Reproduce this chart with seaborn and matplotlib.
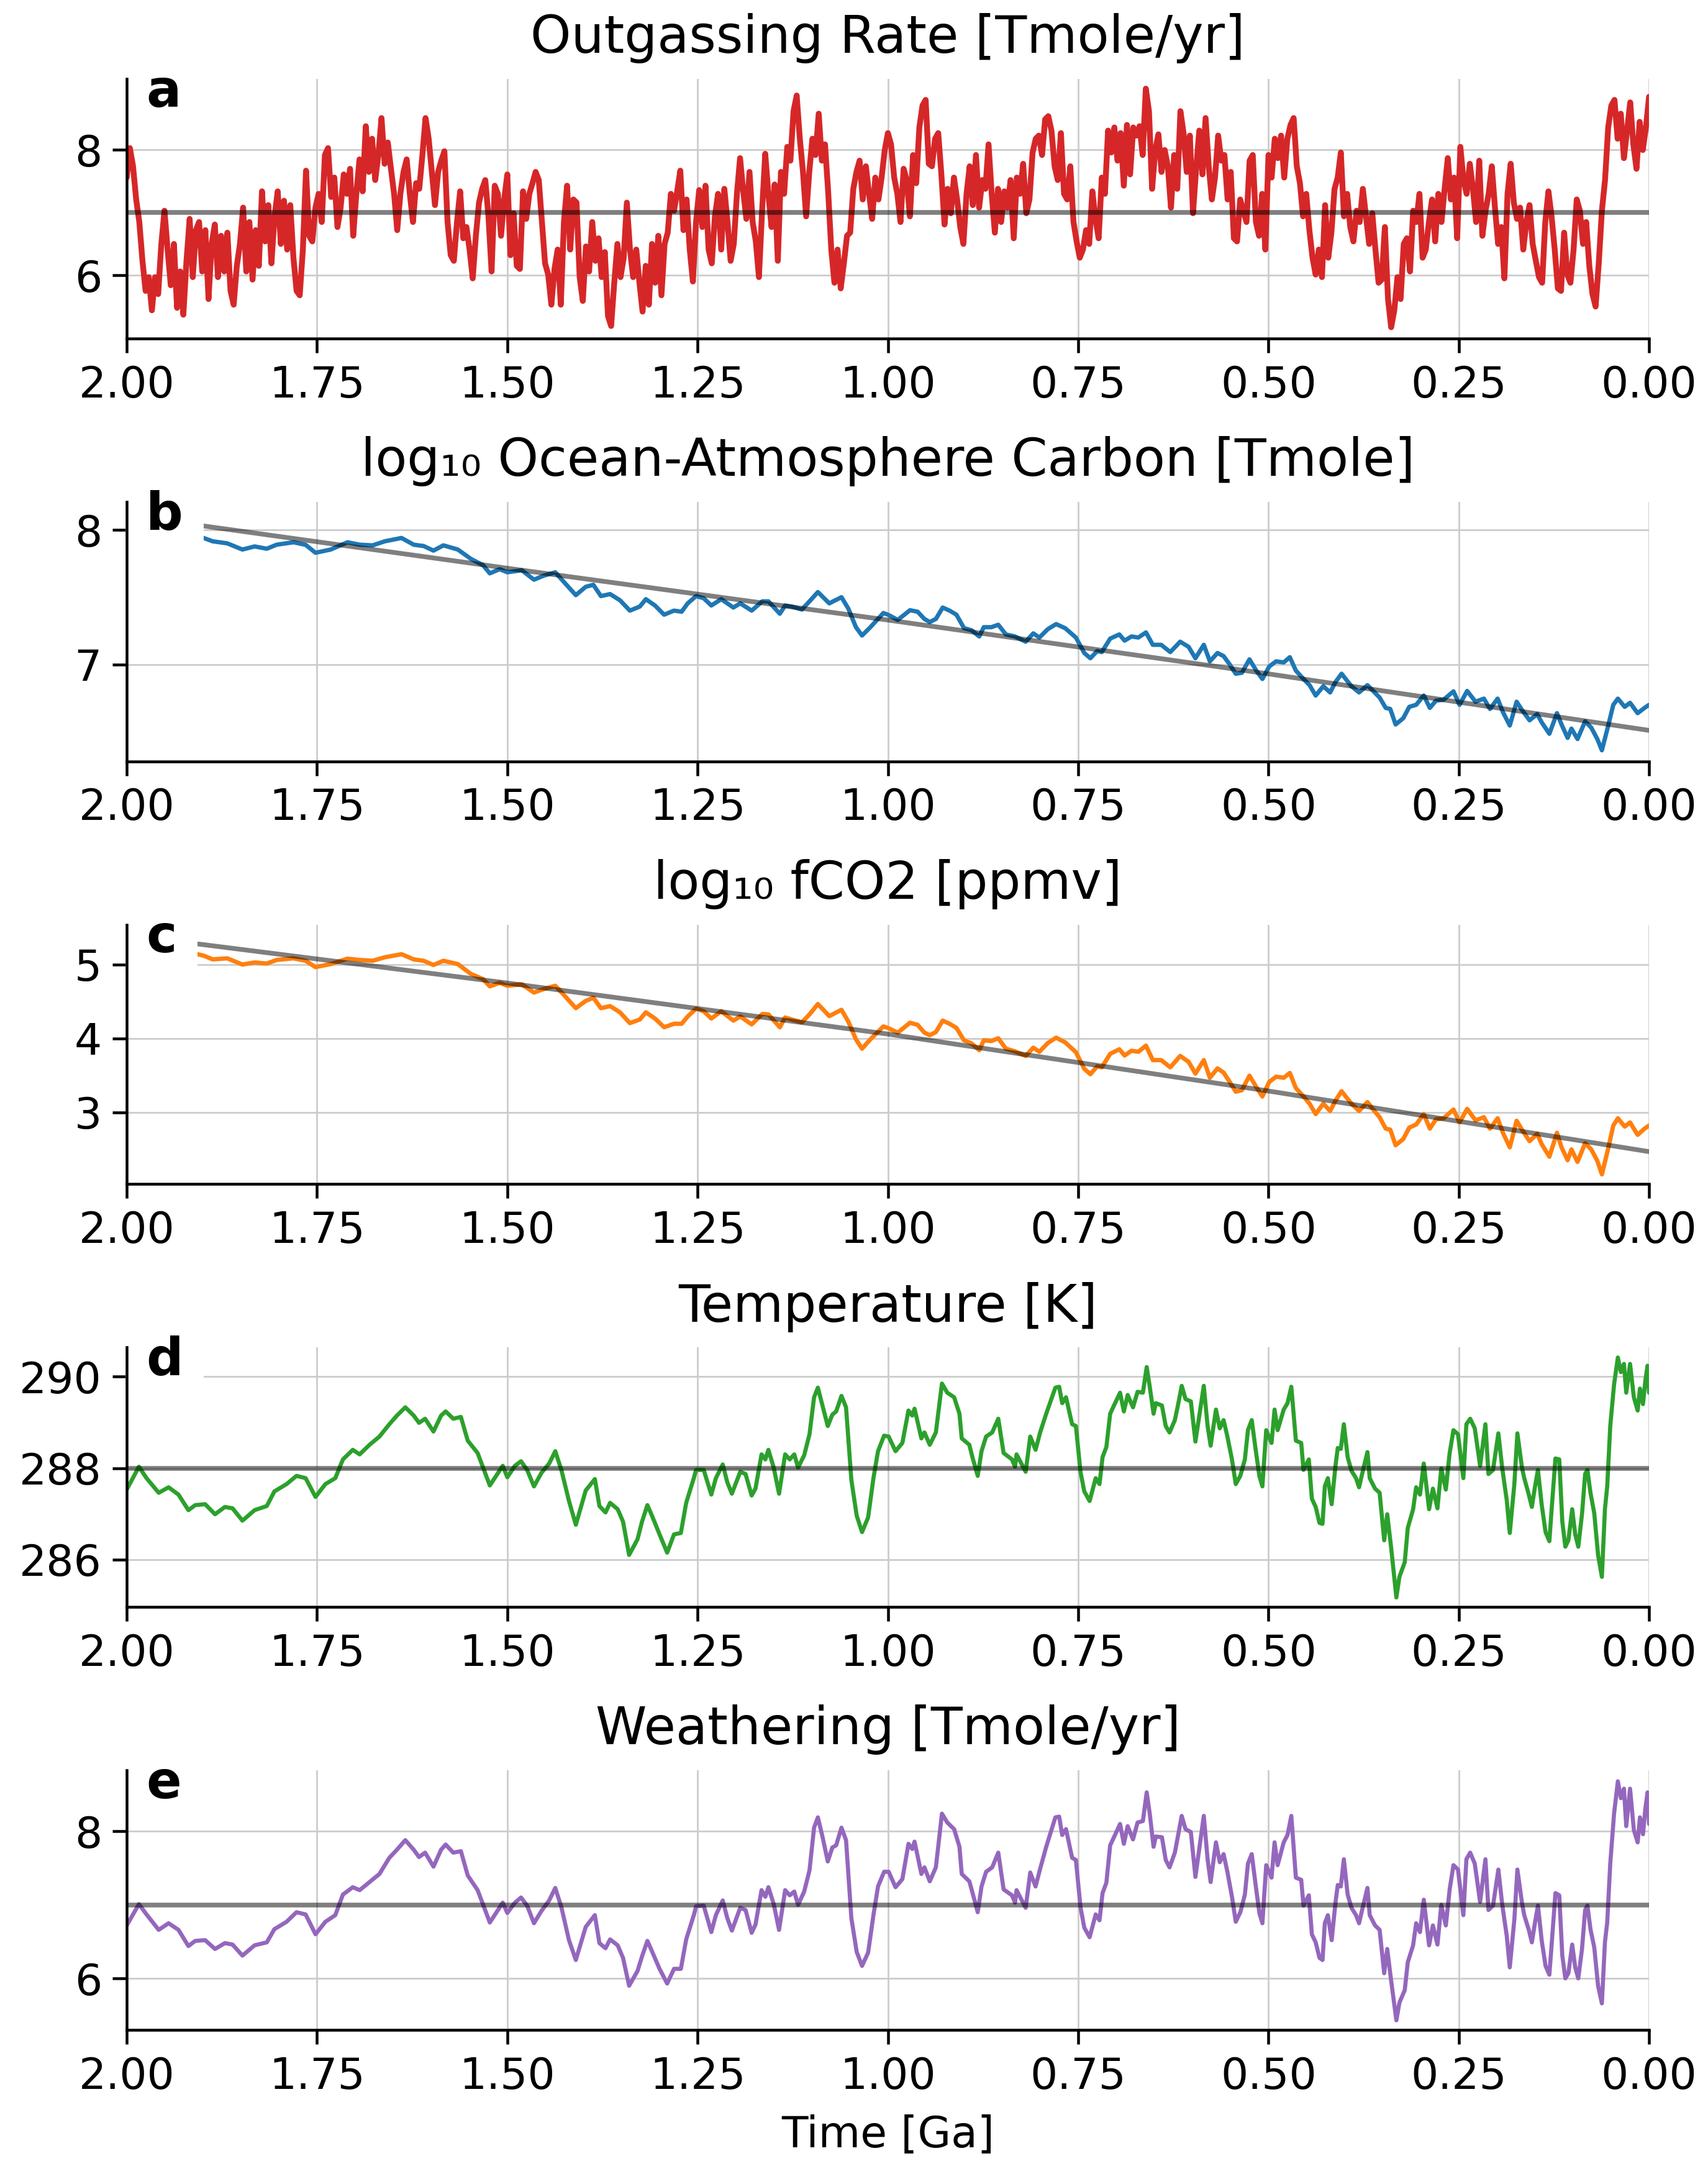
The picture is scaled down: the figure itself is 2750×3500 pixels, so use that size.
import numpy as np
import matplotlib
matplotlib.use("Agg")
import matplotlib.pyplot as plt
from matplotlib.ticker import FormatStrFormatter, FixedLocator
import seaborn as sns

# ---- panel a: outgassing rate, uniform time grid from 2 Ga to present ----
outgassing = [
    7.56, 8.03, 7.74, 7.21, 6.85, 6.23, 5.75, 5.97, 5.44, 5.97,
    5.70, 6.50, 7.03, 6.41, 5.84, 6.50, 5.48, 6.06, 5.37, 6.23,
    6.90, 5.97, 6.72, 6.85, 6.06, 6.72, 5.62, 6.50, 6.81, 5.97,
    6.63, 6.06, 6.68, 5.75, 5.53, 6.15, 6.50, 7.08, 6.06, 6.85,
    5.93, 6.72, 6.15, 7.34, 6.54, 7.12, 6.19, 6.94, 7.34, 6.50,
    7.19, 6.41, 7.12, 6.28, 5.75, 5.68, 6.41, 7.67, 6.63, 6.54,
    7.08, 7.30, 6.85, 7.92, 8.03, 7.25, 7.56, 6.77, 7.08, 7.61,
    7.30, 7.70, 6.63, 7.30, 7.85, 7.34, 8.38, 7.65, 8.18, 7.52,
    7.92, 8.51, 7.78, 8.12, 7.70, 7.30, 6.72, 7.30, 7.65, 7.85,
    7.30, 6.85, 7.47, 7.38, 7.92, 8.51, 8.18, 7.65, 7.12, 7.65,
    7.83, 7.98, 6.85, 6.32, 6.23, 6.85, 7.34, 6.59, 6.77, 6.41,
    5.95, 6.63, 7.16, 7.38, 7.52, 6.94, 6.06, 7.43, 7.30, 6.63,
    7.21, 7.61, 6.32, 6.99, 6.15, 6.10, 7.34, 6.90, 7.30, 7.47,
    7.65, 7.52, 6.85, 6.19, 6.01, 5.53, 6.10, 6.41, 5.53, 6.85,
    7.43, 6.41, 7.21, 7.16, 5.97, 5.59, 6.46, 6.06, 6.85, 6.23,
    6.59, 5.97, 6.37, 5.35, 5.19, 5.88, 6.50, 5.97, 6.28, 7.16,
    6.41, 5.97, 6.41, 5.88, 5.42, 6.15, 5.53, 6.50, 5.88, 6.63,
    5.68, 6.50, 6.68, 7.30, 7.03, 7.34, 7.67, 6.72, 7.21, 6.41,
    5.90, 6.85, 7.36, 6.77, 7.43, 6.41, 6.19, 6.94, 7.30, 6.41,
    7.38, 6.85, 6.23, 6.50, 7.30, 7.87, 7.34, 6.90, 7.65, 6.85,
    6.54, 5.97, 7.03, 7.94, 7.30, 6.77, 7.45, 6.23, 7.65, 7.30,
    8.05, 7.83, 8.62, 8.87, 8.18, 7.65, 6.94, 7.65, 8.18, 7.92,
    8.58, 7.83, 8.09, 7.34, 6.41, 5.88, 6.41, 5.79, 6.19, 6.63,
    6.68, 7.38, 7.65, 7.83, 7.21, 7.74, 7.30, 6.90, 7.56, 7.21,
    7.56, 8.00, 8.27, 8.09, 7.56, 7.30, 6.85, 7.70, 7.52, 6.94,
    7.92, 7.47, 8.36, 8.71, 8.80, 7.78, 7.74, 8.18, 8.27, 7.61,
    6.81, 7.38, 6.99, 7.56, 7.21, 6.77, 6.50, 7.30, 7.74, 7.12,
    7.92, 7.08, 7.52, 7.38, 8.09, 7.30, 6.68, 7.38, 6.85, 7.34,
    7.08, 7.52, 6.59, 7.56, 7.30, 7.78, 6.99, 7.21, 7.96, 8.18,
    8.23, 7.92, 8.49, 8.54, 8.31, 7.74, 7.52, 8.27, 7.30, 7.21,
    7.74, 6.85, 6.54, 6.28, 6.41, 6.72, 6.50, 7.34, 6.90, 6.59,
    7.56, 7.30, 8.31, 7.96, 8.36, 7.83, 8.27, 7.43, 8.40, 7.61,
    8.36, 8.23, 8.38, 7.92, 8.98, 8.62, 7.38, 8.00, 8.25, 7.65,
    8.00, 7.74, 7.08, 7.92, 7.38, 8.62, 8.27, 7.65, 8.23, 6.99,
    7.70, 8.31, 7.61, 8.51, 7.74, 7.21, 7.56, 8.23, 7.83, 7.92,
    7.21, 7.65, 6.59, 6.54, 7.21, 7.03, 6.85, 7.83, 7.92, 6.85,
    6.63, 7.30, 6.41, 7.92, 7.56, 8.18, 7.87, 8.23, 7.56, 8.18,
    8.40, 8.51, 7.74, 7.47, 6.94, 7.30, 6.72, 6.28, 6.01, 6.41,
    5.97, 7.12, 6.28, 6.68, 7.38, 7.56, 7.96, 6.94, 7.30, 6.77,
    6.54, 7.03, 6.85, 7.38, 6.94, 6.50, 6.99, 6.41, 5.88, 5.93,
    6.77, 5.62, 5.17, 5.44, 5.97, 5.62, 6.50, 6.59, 6.06, 7.03,
    6.85, 7.30, 6.28, 6.41, 6.85, 7.21, 6.54, 7.30, 6.85, 7.38,
    7.87, 7.21, 7.56, 6.59, 8.05, 7.52, 7.30, 7.78, 7.38, 6.85,
    7.83, 6.63, 7.03, 7.30, 7.74, 7.08, 6.50, 6.77, 5.95, 7.30,
    7.78, 7.16, 6.90, 7.08, 6.41, 6.85, 7.12, 6.50, 6.23, 5.97,
    5.88, 6.85, 7.34, 6.94, 6.41, 5.79, 5.75, 6.68, 6.01, 5.88,
    6.41, 7.21, 7.03, 6.50, 6.85, 6.15, 5.70, 5.50, 6.19, 7.03,
    7.52, 8.36, 8.71, 8.80, 8.18, 8.58, 7.87, 8.31, 8.76, 8.09,
    7.70, 8.45, 8.00, 8.36, 8.85,
]
time_a = np.linspace(2.0, 0.0, len(outgassing))
outgassing_ref = 7.0

# ---- panels b, c: carbon reservoir and fCO2 ----
time_bc = [
    2.0, 1.899, 1.887, 1.868, 1.848, 1.832, 1.816, 1.803, 1.781, 1.765,
    1.752, 1.732, 1.710, 1.694, 1.677, 1.661, 1.639, 1.623, 1.610, 1.597,
    1.584, 1.565, 1.548, 1.532, 1.523, 1.510, 1.500, 1.481, 1.465, 1.452,
    1.437, 1.426, 1.410, 1.397, 1.387, 1.377, 1.365, 1.352, 1.339, 1.326,
    1.318, 1.306, 1.294, 1.281, 1.271, 1.263, 1.252, 1.242, 1.232, 1.219,
    1.203, 1.194, 1.179, 1.165, 1.157, 1.142, 1.135, 1.126, 1.113, 1.103,
    1.092, 1.077, 1.061, 1.052, 1.042, 1.034, 1.023, 1.006,
    1.0, 0.987, 0.971, 0.961, 0.952, 0.945, 0.937, 0.928, 0.919, 0.910,
    0.900, 0.890, 0.880, 0.874, 0.864, 0.855, 0.845, 0.833, 0.819, 0.809,
    0.801, 0.790, 0.779, 0.767, 0.753, 0.742, 0.734, 0.725, 0.719, 0.708,
    0.696, 0.689, 0.680, 0.671, 0.661, 0.652, 0.641, 0.629, 0.616, 0.605,
    0.596, 0.585, 0.577, 0.567, 0.559, 0.551, 0.543, 0.535, 0.525, 0.516,
    0.508, 0.499, 0.490, 0.480, 0.472, 0.464, 0.454, 0.446, 0.438, 0.428,
    0.419, 0.412, 0.404, 0.391, 0.381, 0.370, 0.362, 0.354, 0.346, 0.340,
    0.333, 0.323, 0.315, 0.306, 0.296, 0.288, 0.280, 0.270, 0.257, 0.249,
    0.239, 0.228, 0.217, 0.209, 0.199, 0.192, 0.183, 0.174, 0.167, 0.157,
    0.147, 0.141, 0.131, 0.121, 0.115, 0.107, 0.102, 0.094, 0.084, 0.076,
    0.068, 0.062, 0.054, 0.047, 0.041, 0.032, 0.025, 0.015, 0.006, 0.0,
]
log_carbon = [
    8.08, 7.94, 7.915, 7.90, 7.854, 7.877, 7.86, 7.89, 7.908, 7.889,
    7.83, 7.854, 7.908, 7.89, 7.885, 7.915, 7.94, 7.89, 7.88, 7.846,
    7.885, 7.854, 7.785, 7.738, 7.677, 7.708, 7.685, 7.70, 7.63, 7.66,
    7.685, 7.615, 7.515, 7.577, 7.592, 7.508, 7.523, 7.477, 7.40, 7.43,
    7.485, 7.438, 7.37, 7.40, 7.392, 7.454, 7.508, 7.492, 7.438, 7.485,
    7.423, 7.454, 7.40, 7.469, 7.469, 7.377, 7.438, 7.43, 7.408, 7.469,
    7.538, 7.454, 7.50, 7.415, 7.277, 7.215, 7.277, 7.382,
    7.37, 7.331, 7.403, 7.392, 7.338, 7.315, 7.338, 7.423, 7.40, 7.37,
    7.27, 7.254, 7.208, 7.277, 7.277, 7.295, 7.223, 7.208, 7.169, 7.231,
    7.20, 7.262, 7.30, 7.269, 7.20, 7.085, 7.046, 7.10, 7.092, 7.192,
    7.223, 7.177, 7.208, 7.20, 7.238, 7.146, 7.146, 7.092, 7.169, 7.131,
    7.046, 7.146, 7.023, 7.085, 7.062, 7.0, 6.931, 6.938, 7.038, 6.954,
    6.892, 6.985, 7.023, 7.015, 7.054, 6.954, 6.892, 6.846, 6.769, 6.838,
    6.792, 6.869, 6.931, 6.838, 6.792, 6.846, 6.80, 6.754, 6.677, 6.669,
    6.554, 6.60, 6.685, 6.70, 6.769, 6.677, 6.731, 6.738, 6.80, 6.70,
    6.803, 6.723, 6.746, 6.669, 6.746, 6.646, 6.546, 6.723, 6.662, 6.585,
    6.631, 6.569, 6.485, 6.638, 6.554, 6.454, 6.523, 6.446, 6.577, 6.531,
    6.446, 6.362, 6.538, 6.70, 6.746, 6.685, 6.715, 6.638, 6.677, 6.70,
]
log_fco2 = [
    5.37, 5.12, 5.07, 5.084, 5.0, 5.028, 5.014, 5.062, 5.084, 5.051,
    4.966, 5.006, 5.079, 5.062, 5.051, 5.098, 5.14, 5.07, 5.051, 4.994,
    5.051, 5.006, 4.874, 4.803, 4.705, 4.753, 4.713, 4.733, 4.621, 4.669,
    4.713, 4.593, 4.41, 4.508, 4.551, 4.41, 4.438, 4.354, 4.208, 4.256,
    4.354, 4.27, 4.152, 4.199, 4.199, 4.298, 4.404, 4.368, 4.27, 4.368,
    4.242, 4.298, 4.191, 4.331, 4.326, 4.152, 4.284, 4.256, 4.219, 4.326,
    4.466, 4.303, 4.388, 4.228, 3.989, 3.862, 3.989, 4.163,
    4.143, 4.079, 4.213, 4.185, 4.079, 4.045, 4.087, 4.242, 4.199, 4.143,
    3.975, 3.933, 3.843, 3.975, 3.966, 4.003, 3.862, 3.826, 3.764, 3.876,
    3.820, 3.938, 4.011, 3.947, 3.815, 3.590, 3.517, 3.624, 3.610, 3.792,
    3.854, 3.770, 3.834, 3.820, 3.904, 3.708, 3.708, 3.610, 3.764, 3.685,
    3.525, 3.708, 3.469, 3.596, 3.539, 3.413, 3.281, 3.301, 3.497, 3.343,
    3.216, 3.413, 3.483, 3.469, 3.534, 3.329, 3.216, 3.118, 2.978, 3.118,
    3.020, 3.160, 3.287, 3.118, 3.020, 3.140, 3.034, 2.935, 2.781, 2.767,
    2.556, 2.640, 2.795, 2.837, 2.978, 2.781, 2.907, 2.921, 3.039, 2.865,
    3.048, 2.893, 2.935, 2.781, 2.921, 2.725, 2.528, 2.888, 2.767, 2.612,
    2.711, 2.570, 2.402, 2.725, 2.528, 2.354, 2.500, 2.331, 2.584, 2.500,
    2.346, 2.163, 2.500, 2.823, 2.921, 2.809, 2.865, 2.697, 2.781, 2.823,
]
trend_time = [2.0, 1.9, 1.5, 1.0, 0.5, 0.0]
carbon_trend = [8.10, 8.03, 7.715, 7.33, 6.93, 6.51]
fco2_trend = [5.39, 5.27, 4.75, 4.06, 3.29, 2.47]

# ---- panels d, e: temperature and weathering ----
time_de = [
    2.0, 1.984, 1.974, 1.958, 1.945, 1.932, 1.919, 1.910, 1.897, 1.884,
    1.871, 1.861, 1.848, 1.832, 1.816, 1.806, 1.790, 1.777, 1.765, 1.752,
    1.739, 1.726, 1.716, 1.703, 1.694, 1.681, 1.668, 1.655, 1.645, 1.634,
    1.623, 1.616, 1.608, 1.597, 1.587, 1.581, 1.571, 1.561, 1.552, 1.539,
    1.523, 1.506, 1.500, 1.490, 1.482, 1.474, 1.465, 1.455, 1.445, 1.437,
    1.429, 1.419, 1.410, 1.397, 1.385, 1.379, 1.371, 1.365, 1.355, 1.348,
    1.340, 1.329, 1.323, 1.316, 1.310, 1.300, 1.290, 1.281, 1.272, 1.265,
    1.255, 1.252, 1.242, 1.232, 1.226, 1.217, 1.211, 1.205, 1.194, 1.187,
    1.179, 1.174, 1.166, 1.161, 1.157, 1.150, 1.143, 1.135, 1.129, 1.123,
    1.118, 1.110, 1.103, 1.097, 1.092, 1.086, 1.079, 1.073, 1.068, 1.061,
    1.055, 1.048, 1.041, 1.034, 1.026, 1.019, 1.013, 1.005,
    0.999, 0.990, 0.981, 0.973, 0.968, 0.965, 0.956, 0.952, 0.945, 0.937,
    0.929, 0.922, 0.913, 0.906, 0.903, 0.893, 0.889, 0.882, 0.877, 0.871,
    0.863, 0.855, 0.848, 0.837, 0.833, 0.831, 0.819, 0.813, 0.806, 0.800,
    0.792, 0.780, 0.775, 0.771, 0.766, 0.758, 0.753, 0.747, 0.742, 0.735,
    0.727, 0.722, 0.718, 0.713, 0.708, 0.703, 0.695, 0.690, 0.685, 0.678,
    0.672, 0.665, 0.660, 0.656, 0.651, 0.648, 0.640, 0.635, 0.630, 0.623,
    0.619, 0.614, 0.609, 0.602, 0.596, 0.585, 0.580, 0.576, 0.569, 0.564,
    0.559, 0.554, 0.548, 0.543, 0.537, 0.531, 0.527, 0.522, 0.517, 0.512,
    0.508, 0.503, 0.496, 0.492, 0.488, 0.480, 0.475, 0.470, 0.464, 0.457,
    0.454, 0.447, 0.443, 0.438, 0.433, 0.429, 0.426, 0.422, 0.417, 0.412,
    0.409, 0.405, 0.401, 0.396, 0.391, 0.385, 0.381, 0.377, 0.370, 0.367,
    0.360, 0.354, 0.348, 0.344, 0.339, 0.332, 0.328, 0.321, 0.317, 0.310,
    0.306, 0.301, 0.296, 0.289, 0.284, 0.278, 0.273, 0.267, 0.262, 0.257,
    0.251, 0.244, 0.240, 0.235, 0.229, 0.222, 0.215, 0.211, 0.205, 0.198,
    0.193, 0.187, 0.183, 0.177, 0.173, 0.167, 0.164, 0.158, 0.154, 0.150,
    0.146, 0.141, 0.136, 0.131, 0.128, 0.123, 0.118, 0.114, 0.110, 0.106,
    0.101, 0.097, 0.093, 0.088, 0.084, 0.081, 0.077, 0.072, 0.067, 0.062,
    0.058, 0.055, 0.051, 0.046, 0.041, 0.037, 0.033, 0.030, 0.025, 0.020,
    0.015, 0.012, 0.008, 0.005, 0.002, 0.0,
]
temperature = [
    287.53, 288.03, 287.78, 287.46, 287.58, 287.42, 287.08, 287.19, 287.21, 286.99,
    287.15, 287.12, 286.85, 287.08, 287.17, 287.49, 287.65, 287.83, 287.78, 287.37,
    287.65, 287.78, 288.19, 288.40, 288.30, 288.51, 288.69, 288.96, 289.15, 289.33,
    289.15, 288.99, 289.08, 288.80, 289.15, 289.24, 289.08, 289.12, 288.60, 288.33,
    287.62, 288.05, 287.80, 288.05, 288.15, 287.96, 287.60, 287.90, 288.10, 288.37,
    287.96, 287.28, 286.76, 287.51, 287.76, 287.17, 287.03, 287.24, 287.10, 286.83,
    286.10, 286.44, 286.83, 287.19, 286.96, 286.55, 286.15, 286.55, 286.58, 287.24,
    287.78, 287.96, 287.96, 287.42, 287.78, 288.08, 287.69, 287.44, 287.92, 287.87,
    287.40, 287.55, 288.30, 288.19, 288.40, 288.01, 287.44, 288.30, 288.19, 288.30,
    288.01, 288.28, 288.74, 289.55, 289.76, 289.37, 288.92, 289.17, 289.24, 289.58,
    289.33, 287.74, 286.96, 286.60, 286.92, 287.78, 288.37, 288.71,
    288.69, 288.37, 288.55, 289.26, 289.15, 289.30, 288.65, 288.78, 288.51, 288.78,
    289.85, 289.65, 289.55, 289.19, 288.65, 288.51, 288.24, 287.83, 288.37, 288.69,
    288.78, 289.08, 288.33, 288.19, 288.03, 288.30, 287.92, 288.69, 288.40, 288.78,
    289.19, 289.76, 289.78, 289.42, 289.55, 288.96, 288.92, 287.92, 287.49, 287.28,
    287.78, 287.65, 288.24, 288.46, 289.19, 289.37, 289.65, 289.24, 289.60, 289.33,
    289.67, 289.65, 290.21, 289.78, 289.19, 289.42, 289.37, 288.92, 288.78, 289.05,
    289.37, 289.80, 289.51, 289.46, 288.58, 289.80, 288.92, 288.49, 289.28, 288.87,
    289.05, 288.69, 288.19, 287.65, 287.83, 288.19, 288.83, 289.05, 288.42, 287.83,
    287.60, 288.83, 288.55, 289.28, 288.83, 289.28, 289.42, 289.78, 288.60, 288.55,
    287.96, 288.19, 287.33, 287.15, 286.80, 286.78, 287.60, 287.78, 287.21, 288.05,
    288.44, 288.42, 288.96, 288.24, 287.94, 287.78, 287.58, 287.87, 288.35, 287.78,
    287.55, 287.46, 286.42, 286.99, 286.28, 285.17, 285.62, 285.94, 286.69, 287.10,
    287.58, 287.42, 288.10, 287.10, 287.55, 287.12, 287.99, 287.53, 288.33, 288.83,
    288.74, 287.78, 288.96, 289.08, 288.87, 288.05, 288.96, 287.87, 287.96, 288.76,
    288.01, 287.30, 286.58, 287.65, 288.76, 288.01, 287.78, 287.42, 287.15, 287.58,
    287.96, 287.19, 286.60, 286.40, 287.10, 288.21, 288.19, 286.83, 286.28, 286.42,
    287.10, 286.55, 286.28, 287.01, 287.87, 287.96, 287.46, 287.01, 286.10, 285.62,
    287.10, 287.60, 288.92, 289.83, 290.42, 290.10, 290.28, 289.65, 290.28, 289.55,
    289.26, 289.74, 289.40, 289.90, 290.24, 289.65,
]
temperature_ref = 288.0
weathering = [
    6.72, 7.01, 6.87, 6.66, 6.75, 6.66, 6.44, 6.51, 6.52, 6.40,
    6.48, 6.46, 6.31, 6.45, 6.49, 6.67, 6.77, 6.90, 6.87, 6.60,
    6.77, 6.86, 7.14, 7.24, 7.20, 7.31, 7.42, 7.64, 7.75, 7.88,
    7.75, 7.65, 7.71, 7.52, 7.75, 7.82, 7.71, 7.73, 7.40, 7.20,
    6.76, 7.03, 6.89, 7.03, 7.10, 6.99, 6.75, 6.92, 7.06, 7.23,
    6.97, 6.52, 6.25, 6.70, 6.86, 6.48, 6.41, 6.53, 6.45, 6.28,
    5.90, 6.10, 6.30, 6.51, 6.37, 6.13, 5.93, 6.13, 6.13, 6.53,
    6.86, 6.98, 6.99, 6.63, 6.86, 7.06, 6.82, 6.65, 6.96, 6.93,
    6.62, 6.73, 7.20, 7.11, 7.24, 7.01, 6.66, 7.20, 7.13, 7.18,
    7.00, 7.18, 7.47, 8.05, 8.19, 7.93, 7.59, 7.78, 7.81, 8.05,
    7.88, 6.82, 6.36, 6.17, 6.35, 6.86, 7.25, 7.45,
    7.45, 7.24, 7.35, 7.83, 7.76, 7.86, 7.42, 7.51, 7.32, 7.51,
    8.24, 8.12, 8.03, 7.79, 7.42, 7.32, 7.17, 6.90, 7.25, 7.45,
    7.51, 7.71, 7.21, 7.13, 7.03, 7.20, 6.96, 7.44, 7.25, 7.49,
    7.79, 8.19, 8.20, 7.95, 8.03, 7.64, 7.61, 6.97, 6.69, 6.56,
    6.87, 6.79, 7.16, 7.30, 7.81, 7.92, 8.10, 7.83, 8.07, 7.89,
    8.12, 8.14, 8.53, 8.24, 7.79, 7.93, 7.92, 7.61, 7.51, 7.71,
    7.93, 8.21, 8.03, 7.99, 7.38, 8.21, 7.62, 7.31, 7.85, 7.58,
    7.69, 7.45, 7.11, 6.77, 6.90, 7.14, 7.56, 7.69, 7.28, 6.89,
    6.75, 7.54, 7.37, 7.85, 7.54, 7.85, 7.95, 8.21, 7.37, 7.34,
    6.99, 7.13, 6.60, 6.49, 6.28, 6.25, 6.75, 6.86, 6.52, 7.03,
    7.27, 7.25, 7.62, 7.14, 6.96, 6.86, 6.75, 6.93, 7.23, 6.86,
    6.72, 6.66, 6.07, 6.40, 5.98, 5.43, 5.67, 5.84, 6.22, 6.45,
    6.75, 6.63, 7.07, 6.45, 6.72, 6.46, 7.00, 6.72, 7.21, 7.54,
    7.48, 6.86, 7.62, 7.71, 7.56, 7.04, 7.62, 6.93, 6.99, 7.48,
    7.01, 6.58, 6.15, 6.80, 7.48, 7.03, 6.86, 6.66, 6.49, 6.75,
    6.99, 6.51, 6.17, 6.05, 6.46, 7.16, 7.13, 6.31, 6.00, 6.07,
    6.46, 6.15, 6.00, 6.41, 6.93, 6.99, 6.67, 6.42, 5.90, 5.66,
    6.49, 6.76, 7.56, 8.24, 8.68, 8.45, 8.58, 8.07, 8.58, 8.02,
    7.85, 8.19, 7.96, 8.30, 8.53, 8.10,
]
weathering_ref = 7.0

titles = [
    "Outgassing Rate [Tmole/yr]",
    "log\u2081\u2080 Ocean-Atmosphere Carbon [Tmole]",
    "log\u2081\u2080 fCO2 [ppmv]",
    "Temperature [K]",
    "Weathering [Tmole/yr]",
]
letters = ["a", "b", "c", "d", "e"]
x_ticks = [2.0, 1.75, 1.5, 1.25, 1.0, 0.75, 0.5, 0.25, 0.0]

sns.set_theme(style="ticks", rc={"axes.grid": True})
plt.rcParams.update({
    "font.family": ["DejaVu Sans"],
    "text.color": "black",
    "axes.labelcolor": "black",
    "axes.titlecolor": "black",
    "axes.titlesize": 24,
    "axes.titlepad": 12,
    "axes.labelsize": 20,
    "xtick.labelsize": 20,
    "ytick.labelsize": 20,
    "axes.linewidth": 1.3,
    "axes.edgecolor": "black",
    "xtick.color": "black",
    "ytick.color": "black",
    "xtick.major.size": 6.5,
    "ytick.major.size": 6.5,
    "xtick.major.width": 1.3,
    "ytick.major.width": 1.3,
    "xtick.major.pad": 5.5,
    "ytick.major.pad": 5.0,
    "grid.color": "#cccccc",
    "grid.linewidth": 0.8,
})

fig, axes = plt.subplots(5, 1, figsize=(11, 14), dpi=250)
fig.subplots_adjust(left=0.0742, right=0.9655, top=0.9637, bottom=0.0663, hspace=0.629)

panels = [
    (time_a, outgassing, "tab:red", 2.7, (4.99, 9.135), [6, 8]),
    (time_bc, log_carbon, "tab:blue", 2.0, (6.28, 8.209), [7, 8]),
    (time_bc, log_fco2, "tab:orange", 2.0, (2.03, 5.54), [3, 4, 5]),
    (time_de, temperature, "tab:green", 1.9, (284.96, 290.64), [286, 288, 290]),
    (time_de, weathering, "tab:purple", 1.9, (5.30, 8.83), [6, 8]),
]

for i, (ax, (t, vals, color, lw, ylim, yticks)) in enumerate(zip(axes, panels)):
    sns.lineplot(x=t, y=vals, ax=ax, color=color, linewidth=lw,
                 estimator=None, sort=False, legend=False)
    ax.set_title(titles[i])
    ax.set_xlim(2.0, 0.0)
    ax.set_ylim(*ylim)
    ax.xaxis.set_major_locator(FixedLocator(x_ticks))
    ax.xaxis.set_major_formatter(FormatStrFormatter("%.2f"))
    ax.yaxis.set_major_locator(FixedLocator(yticks))
    ax.set_ylabel("")
    ax.text(0.0126, 0.893, letters[i], transform=ax.transAxes, fontsize=24,
            fontweight="bold", va="baseline", ha="left", zorder=2.4, color="black",
            bbox=dict(boxstyle="square,pad=0.4", facecolor="white", edgecolor="none"))

# reference levels and long-term trends, drawn over the series
axes[0].axhline(outgassing_ref, color="black", alpha=0.5, linewidth=2.2)
sns.lineplot(x=trend_time, y=carbon_trend, ax=axes[1], color="black", alpha=0.5,
             linewidth=2.2, sort=False, estimator=None)
sns.lineplot(x=trend_time, y=fco2_trend, ax=axes[2], color="black", alpha=0.5,
             linewidth=2.2, sort=False, estimator=None)
axes[3].axhline(temperature_ref, color="black", alpha=0.5, linewidth=2.2)
axes[4].axhline(weathering_ref, color="black", alpha=0.5, linewidth=2.2)

axes[4].set_xlabel("Time [Ga]", labelpad=8)
sns.despine(fig=fig)

fig.savefig("out.png", dpi=250)
